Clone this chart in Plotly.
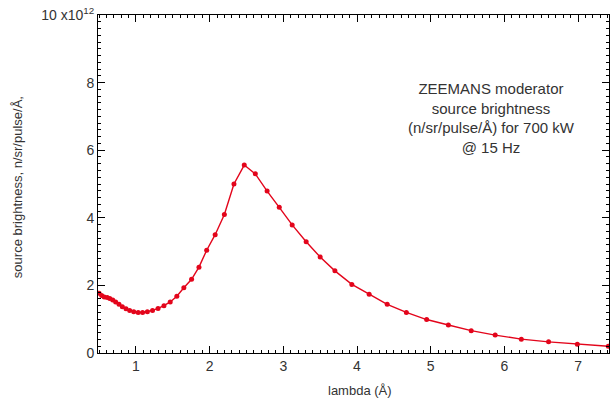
import plotly.graph_objects as go

# wavelength (Å)
lam = [0.50, 0.535, 0.57, 0.61, 0.645, 0.685, 0.725, 0.77, 0.815, 0.865, 0.915, 0.97,
       1.03, 1.09, 1.155, 1.225, 1.30, 1.38, 1.465, 1.555, 1.65, 1.755, 1.855, 1.96,
       2.075, 2.20, 2.33, 2.47, 2.62, 2.78, 2.945, 3.12, 3.31, 3.50, 3.70, 3.93,
       4.165, 4.41, 4.67, 4.945, 5.24, 5.55, 5.875, 6.23, 6.60, 6.99, 7.41]
# source brightness in units of 1e12 n/sr/pulse/Å
bright = [1.77, 1.70, 1.66, 1.64, 1.61, 1.57, 1.51, 1.44, 1.37, 1.31, 1.26, 1.22,
          1.20, 1.20, 1.22, 1.26, 1.32, 1.40, 1.51, 1.68, 1.93, 2.18, 2.54, 3.04,
          3.50, 4.10, 5.00, 5.56, 5.30, 4.79, 4.31, 3.79, 3.29, 2.84, 2.43, 2.03,
          1.74, 1.44, 1.20, 0.99, 0.83, 0.66, 0.53, 0.41, 0.33, 0.26, 0.20]

y_label_alias = {"10": "10 x10<sup>12</sup>"}

x_title = "lambda (Å)"
y_title = "source brightness, n/sr/pulse/Å,"
note_text = "ZEEMANS moderator<br>source brightness<br>(n/sr/pulse/Å) for 700 kW<br>@ 15 Hz"

RED = "#e3051b"
TXT = "#333333"
FONT = "Liberation Sans"

fig = go.Figure()
fig.add_trace(go.Scatter(x=lam, y=bright, mode="lines+markers",
                         line=dict(color=RED, width=1.4),
                         marker=dict(color=RED, size=5),
                         showlegend=False))

fig.update_layout(
    width=611, height=402,
    margin=dict(l=98, r=2, t=15, b=49),
    plot_bgcolor="white",
    font=dict(family=FONT, size=14, color=TXT),
    xaxis=dict(range=[0.485, 7.42], tickmode="linear", tick0=0, dtick=1,
               ticks="inside", ticklen=7, tickcolor="black", tickwidth=1,
               showline=True, linecolor="black", mirror="allticks",
               showgrid=False, zeroline=False,
               minor=dict(tickmode="linear", tick0=0, dtick=0.1, ticklen=3,
                          ticks="inside", tickcolor="black")),
    yaxis=dict(range=[0, 10], tickmode="linear", tick0=0, dtick=2,
               labelalias=y_label_alias,
               ticks="inside", ticklen=7, tickcolor="black", tickwidth=1,
               showline=True, linecolor="black", mirror="allticks",
               showgrid=False, zeroline=False,
               minor=dict(tickmode="linear", tick0=0, dtick=0.2, ticklen=3,
                          ticks="inside", tickcolor="black")),
)

# axis titles
fig.add_annotation(text=x_title, xref="paper", yref="paper", x=0.513, y=-0.11,
                   xanchor="center", yanchor="middle", showarrow=False,
                   font=dict(size=13, color=TXT, family=FONT))
fig.add_annotation(text=y_title, xref="paper", yref="paper", x=-0.157, y=0.49,
                   xanchor="center", yanchor="middle", textangle=-90, showarrow=False,
                   font=dict(size=13, color=TXT, family=FONT))

fig.add_annotation(text=note_text, xref="paper", yref="paper",
                   x=0.77, y=0.815, xanchor="center", yanchor="top",
                   showarrow=False,
                   font=dict(size=15, color=TXT, family=FONT))

fig.write_html("out.html")
